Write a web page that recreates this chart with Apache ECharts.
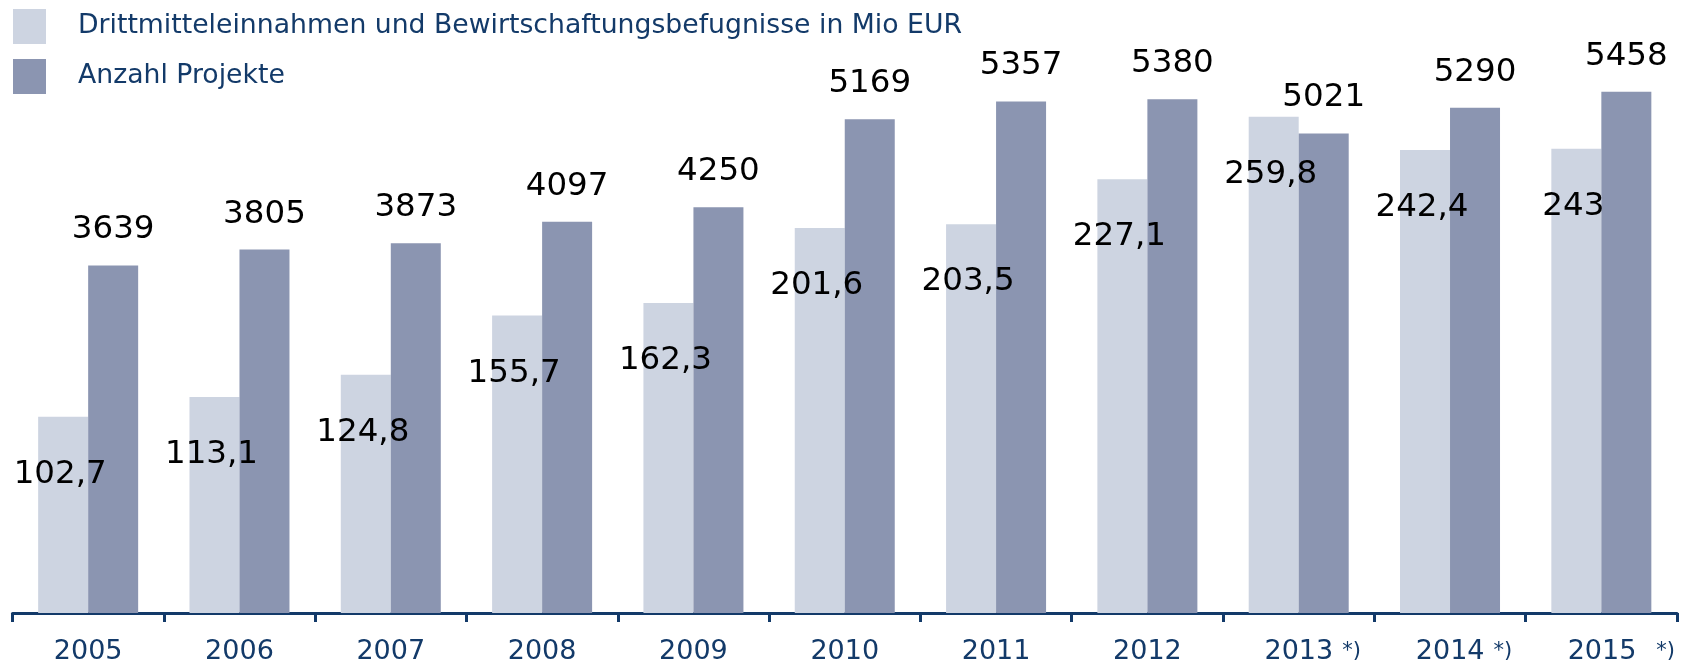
<!DOCTYPE html>
<html>
<head>
<meta charset="utf-8">
<script src="https://cdn.jsdelivr.net/npm/echarts@6/dist/echarts.min.js"></script>
<style>
  html, body { margin: 0; padding: 0; background: #fff; }
  #chart { width: 1693px; height: 665px; }
</style>
</head>
<body>
<div id="chart"></div>
<script>
const years = ['2005', '2006', '2007', '2008', '2009', '2010', '2011', '2012', '2013', '2014', '2015'];
const yearNotes = ['', '', '', '', '', '', '', '', ' *)', ' *)', '   *)'];
const income = [102.7, 113.1, 124.8, 155.7, 162.3, 201.6, 203.5, 227.1, 259.8, 242.4, 243];
const projects = [3639, 3805, 3873, 4097, 4250, 5169, 5357, 5380, 5021, 5290, 5458];

const NAVY = '#133a69';
const FONT = '"DejaVu Sans", Verdana, sans-serif';

const chart = echarts.init(document.getElementById('chart'));

const fmtDe = (v) => String(v).replace('.', ',');

chart.setOption({
  animation: false,
  backgroundColor: '#fff',
  textStyle: { fontFamily: FONT },
  legend: {
    data: ['Drittmitteleinnahmen und Bewirtschaftungsbefugnisse in Mio EUR', 'Anzahl Projekte'],
    orient: 'vertical',
    left: 13,
    top: 9,
    padding: 0,
    itemWidth: 33,
    itemHeight: 35,
    itemGap: 15,
    icon: 'rect',
    selectedMode: false,
    textStyle: { fontSize: 26.7, color: NAVY, fontFamily: FONT, padding: [0, 0, 0, 27] },
  },
  grid: { left: 12.5, right: 16, top: 40, bottom: 51 },
  xAxis: {
    type: 'category',
    data: years,
    axisLine: { lineStyle: { color: NAVY, width: 3 } },
    axisTick: { show: true, length: 9, lineStyle: { color: NAVY, width: 3 } },
    axisLabel: {
      interval: 0,
      margin: 25,
      color: NAVY,
      fontSize: 27,
      fontFamily: FONT,
      formatter: (v, i) => {
        const n = yearNotes[i];
        if (!n) return '{y|' + v + '}';
        const wide = n.startsWith('   ');
        return '{' + (wide ? 'p2' : 'p') + '|}{y|' + v + '}{' + (wide ? 's2' : 's') + '|*)}';
      },
      rich: {
        y: { fontSize: 27, color: NAVY, fontFamily: FONT },
        p: { width: 28 },
        p2: { width: 40 },
        s: { fontSize: 21, color: NAVY, fontFamily: FONT, padding: [0, 0, 0, 9] },
        s2: { fontSize: 21, color: NAVY, fontFamily: FONT, padding: [0, 0, 0, 20] },
      },
    },
  },
  yAxis: [
    { type: 'value', min: 0, max: 300, show: false, splitLine: { show: false } },
    { type: 'value', min: 0, max: 6000, show: false, splitLine: { show: false } },
  ],
  series: [
    {
      name: 'Drittmitteleinnahmen und Bewirtschaftungsbefugnisse in Mio EUR',
      type: 'bar',
      yAxisIndex: 0,
      data: income,
      barWidth: 50,
      barGap: '0%',
      itemStyle: { color: '#cdd4e1' },
      label: {
        show: true,
        position: 'insideTop',
        distance: 41,
        offset: [-3, 0],
        color: '#000',
        fontSize: 32.5,
        fontFamily: FONT,
        formatter: (p) => fmtDe(p.value),
      },
    },
    {
      name: 'Anzahl Projekte',
      type: 'bar',
      yAxisIndex: 1,
      data: projects,
      barWidth: 50,
      barGap: '0%',
      itemStyle: { color: '#8b95b1' },
      label: {
        show: true,
        position: 'top',
        distance: 19,
        color: '#000',
        fontSize: 32.5,
        fontFamily: FONT,
      },
    },
  ],
});
</script>
</body>
</html>
